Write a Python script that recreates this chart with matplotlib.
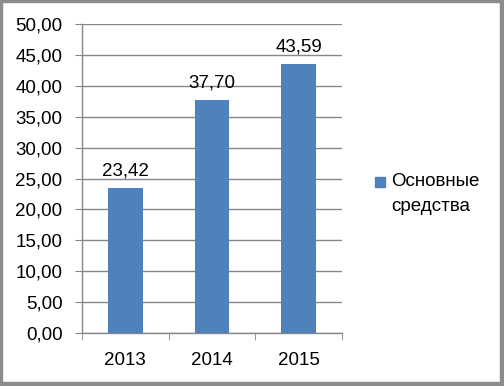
import matplotlib
matplotlib.use("Agg")
import matplotlib.pyplot as plt
import matplotlib.patches as mpatches
import numpy as np

# ── Data ──────────────────────────────────────────────────────────────────────
years  = ["2013", "2014", "2015"]
values = [23.42, 37.70, 43.59]
series_name = "Основные\nсредства"

# ── Palette ───────────────────────────────────────────────────────────────────
C_BAR  = "#4F81BD"
C_GRID = "#868686"
C_TX   = "#000000"
C_EDGE = "#8c8c8c"
FS = 13.5

plt.rcParams["font.family"] = ["Liberation Sans", "DejaVu Sans"]

W, H = 504, 386
fig = plt.figure(figsize=(W / 100, H / 100), dpi=100, facecolor="white")

# frame with shadow on right/bottom
fig.patches.append(mpatches.Rectangle((0, 0), 2 / W, 1, transform=fig.transFigure,
                                      color=C_EDGE, zorder=5))
fig.patches.append(mpatches.Rectangle((0, 1 - 2 / H), 1, 2 / H, transform=fig.transFigure,
                                      color=C_EDGE, zorder=5))
fig.patches.append(mpatches.Rectangle((1 - 4 / W, 0), 4 / W, 1, transform=fig.transFigure,
                                      color=C_EDGE, zorder=5))
fig.patches.append(mpatches.Rectangle((0, 0), 1, 4 / H, transform=fig.transFigure,
                                      color=C_EDGE, zorder=5))

ax = fig.add_axes([82 / W, (H - 333) / H, 260 / W, 309 / H])
x = np.arange(len(years))
bars = ax.bar(x, values, width=0.40, color=C_BAR, zorder=3)

for xi, v in zip(x, values):
    ax.annotate(f"{v:.2f}".replace(".", ","), (xi, v), xytext=(0, 6),
                textcoords="offset points", ha="center", va="bottom",
                fontsize=FS, color=C_TX)

ax.set_xlim(-0.5, len(years) - 0.5)
ax.set_ylim(0, 50)
ax.set_yticks(np.arange(0, 51, 5))
ax.set_yticklabels([f"{t:.2f}".replace(".", ",") for t in np.arange(0, 51, 5)])
ax.set_xticks(x)
ax.set_xticklabels(years)
ax.set_xticks(np.arange(-0.5, len(years)), minor=True)

ax.yaxis.grid(True, color=C_GRID, lw=1.0)
ax.set_axisbelow(True)
for s in ["top", "right"]:
    ax.spines[s].set_visible(False)
for s in ["left", "bottom"]:
    ax.spines[s].set_color(C_GRID)
    ax.spines[s].set_linewidth(1.0)

ax.tick_params(axis="y", length=5, color=C_GRID, labelsize=FS, pad=9, labelcolor=C_TX)
ax.tick_params(axis="x", which="major", length=0, labelsize=FS, pad=14, labelcolor=C_TX)
ax.tick_params(axis="x", which="minor", length=5, color=C_GRID)

# ── Legend (square aligned with first line, like Excel) ──────────────────────
fig.patches.append(mpatches.Rectangle((375 / W, 1 - 187 / H), 10 / W, 10 / H,
                                      transform=fig.transFigure, color=C_BAR))
fig.text(391 / W, 1 - 173 / H, series_name, ha="left", va="top",
         fontsize=FS, color=C_TX, linespacing=1.6)

plt.savefig("out.png", dpi=100, facecolor=fig.get_facecolor())
